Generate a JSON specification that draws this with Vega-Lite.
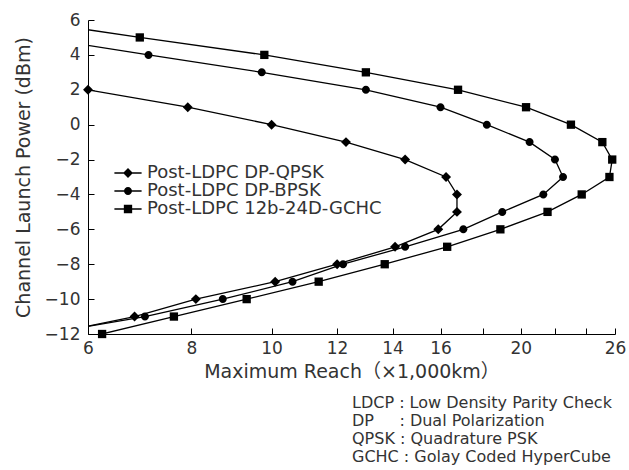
{
  "$schema": "https://vega.github.io/schema/vega-lite/v6.json",
  "width": 527,
  "height": 314,
  "autosize": {"type": "none"},
  "padding": {"left": 88, "top": 20, "right": 14, "bottom": 136},
  "background": "white",
  "config": {
    "view": {"stroke": null},
    "font": "DejaVu Sans",
    "axis": {
      "grid": false,
      "domainColor": "#000",
      "domainWidth": 1,
      "tickColor": "#000",
      "tickWidth": 1,
      "tickSize": -6,
      "labelColor": "#333",
      "titleColor": "#333",
      "labelFont": "DejaVu Sans",
      "titleFont": "DejaVu Sans, Noto Sans CJK JP",
      "titleFontWeight": "normal",
      "labelFontSize": 17,
      "titleFontSize": 19
    }
  },
  "title": {
    "text": [
      "LDCP\u00a0:\u00a0Low Density Parity Check",
      "DP\u00a0\u00a0\u00a0\u00a0\u00a0:\u00a0Dual Polarization",
      "QPSK\u00a0:\u00a0Quadrature PSK",
      "GCHC\u00a0:\u00a0Golay Coded HyperCube"
    ],
    "orient": "bottom",
    "anchor": "start",
    "align": "left",
    "frame": "group",
    "dx": 264,
    "offset": 14,
    "font": "DejaVu Sans",
    "fontSize": 16,
    "fontWeight": "normal",
    "color": "#333",
    "lineHeight": 18
  },
  "data": {
    "values": [
      {"series": "Post-LDPC DP-QPSK", "reach": 6.0, "power": 2},
      {"series": "Post-LDPC DP-QPSK", "reach": 7.92, "power": 1},
      {"series": "Post-LDPC DP-QPSK", "reach": 10.0, "power": 0},
      {"series": "Post-LDPC DP-QPSK", "reach": 12.3, "power": -1},
      {"series": "Post-LDPC DP-QPSK", "reach": 14.5, "power": -2},
      {"series": "Post-LDPC DP-QPSK", "reach": 16.25, "power": -3},
      {"series": "Post-LDPC DP-QPSK", "reach": 16.75, "power": -4},
      {"series": "Post-LDPC DP-QPSK", "reach": 16.75, "power": -5},
      {"series": "Post-LDPC DP-QPSK", "reach": 15.9, "power": -6},
      {"series": "Post-LDPC DP-QPSK", "reach": 14.1, "power": -7},
      {"series": "Post-LDPC DP-QPSK", "reach": 12.0, "power": -8},
      {"series": "Post-LDPC DP-QPSK", "reach": 10.1, "power": -9},
      {"series": "Post-LDPC DP-QPSK", "reach": 8.1, "power": -10},
      {"series": "Post-LDPC DP-QPSK", "reach": 6.83, "power": -11},
      {"series": "Post-LDPC DP-QPSK", "reach": 5.4, "power": -12},
      {"series": "Post-LDPC DP-BPSK", "reach": 5.2, "power": 5},
      {"series": "Post-LDPC DP-BPSK", "reach": 7.1, "power": 4},
      {"series": "Post-LDPC DP-BPSK", "reach": 9.73, "power": 3},
      {"series": "Post-LDPC DP-BPSK", "reach": 13.0, "power": 2},
      {"series": "Post-LDPC DP-BPSK", "reach": 16.0, "power": 1},
      {"series": "Post-LDPC DP-BPSK", "reach": 18.2, "power": 0},
      {"series": "Post-LDPC DP-BPSK", "reach": 20.5, "power": -1},
      {"series": "Post-LDPC DP-BPSK", "reach": 22.0, "power": -2},
      {"series": "Post-LDPC DP-BPSK", "reach": 22.5, "power": -3},
      {"series": "Post-LDPC DP-BPSK", "reach": 21.3, "power": -4},
      {"series": "Post-LDPC DP-BPSK", "reach": 19.0, "power": -5},
      {"series": "Post-LDPC DP-BPSK", "reach": 17.05, "power": -6},
      {"series": "Post-LDPC DP-BPSK", "reach": 14.5, "power": -7},
      {"series": "Post-LDPC DP-BPSK", "reach": 12.2, "power": -8},
      {"series": "Post-LDPC DP-BPSK", "reach": 10.6, "power": -9},
      {"series": "Post-LDPC DP-BPSK", "reach": 8.73, "power": -10},
      {"series": "Post-LDPC DP-BPSK", "reach": 7.03, "power": -11},
      {"series": "Post-LDPC DP-BPSK", "reach": 5.3, "power": -12},
      {"series": "Post-LDPC 12b-24D-GCHC", "reach": 5.0, "power": 6},
      {"series": "Post-LDPC 12b-24D-GCHC", "reach": 6.93, "power": 5},
      {"series": "Post-LDPC 12b-24D-GCHC", "reach": 9.8, "power": 4},
      {"series": "Post-LDPC 12b-24D-GCHC", "reach": 13.0, "power": 3},
      {"series": "Post-LDPC 12b-24D-GCHC", "reach": 16.8, "power": 2},
      {"series": "Post-LDPC 12b-24D-GCHC", "reach": 20.3, "power": 1},
      {"series": "Post-LDPC 12b-24D-GCHC", "reach": 23.0, "power": 0},
      {"series": "Post-LDPC 12b-24D-GCHC", "reach": 25.1, "power": -1},
      {"series": "Post-LDPC 12b-24D-GCHC", "reach": 25.8, "power": -2},
      {"series": "Post-LDPC 12b-24D-GCHC", "reach": 25.6, "power": -3},
      {"series": "Post-LDPC 12b-24D-GCHC", "reach": 23.7, "power": -4},
      {"series": "Post-LDPC 12b-24D-GCHC", "reach": 21.55, "power": -5},
      {"series": "Post-LDPC 12b-24D-GCHC", "reach": 18.9, "power": -6},
      {"series": "Post-LDPC 12b-24D-GCHC", "reach": 16.3, "power": -7},
      {"series": "Post-LDPC 12b-24D-GCHC", "reach": 13.7, "power": -8},
      {"series": "Post-LDPC 12b-24D-GCHC", "reach": 11.4, "power": -9},
      {"series": "Post-LDPC 12b-24D-GCHC", "reach": 9.33, "power": -10},
      {"series": "Post-LDPC 12b-24D-GCHC", "reach": 7.62, "power": -11},
      {"series": "Post-LDPC 12b-24D-GCHC", "reach": 6.24, "power": -12}
    ]
  },
  "encoding": {
    "x": {
      "field": "reach",
      "type": "quantitative",
      "scale": {"type": "log", "domain": [6, 26], "nice": false},
      "axis": {
        "title": "Maximum Reach（×1,000km）",
        "values": [6, 8, 10, 12, 14, 16, 18, 20, 22, 24, 26],
        "format": "d",
        "labelExpr": "indexof([18, 22, 24], datum.value) >= 0 ? '' : datum.label",
        "labelOverlap": false,
        "labelFlush": false,
        "labelBound": false,
        "labelPadding": 12,
        "titlePadding": 6
      }
    },
    "y": {
      "field": "power",
      "type": "quantitative",
      "scale": {"domain": [-12, 6], "nice": false},
      "axis": {
        "title": "Channel Launch Power (dBm)",
        "values": [-12, -10, -8, -6, -4, -2, 0, 2, 4, 6],
        "format": "d",
        "labelOverlap": false,
        "labelPadding": 14,
        "titlePadding": 11
      }
    }
  },
  "layer": [
    {
      "mark": {"type": "line", "color": "#000", "strokeWidth": 1.3, "clip": true},
      "encoding": {
        "detail": {"field": "series", "type": "nominal"},
        "order": {"field": "power", "type": "quantitative"}
      }
    },
    {
      "transform": [{"filter": "datum.reach >= 5.99"}],
      "mark": {"type": "point", "filled": true, "color": "#000", "opacity": 1, "size": 256},
      "encoding": {
        "shape": {
          "field": "series",
          "type": "nominal",
          "scale": {
            "domain": ["Post-LDPC DP-QPSK", "Post-LDPC DP-BPSK", "Post-LDPC 12b-24D-GCHC"],
            "range": [
              "M0,-0.62L0.62,0L0,0.62L-0.62,0Z",
              "M0.5,0A0.5,0.5 0 1,1 -0.5,0A0.5,0.5 0 1,1 0.5,0Z",
              "M-0.52,-0.52L0.52,-0.52L0.52,0.52L-0.52,0.52Z"
            ]
          },
          "legend": null
        }
      }
    },
    {
      "transform": [{"filter": "datum.reach >= 5.99"}],
      "mark": {"type": "point", "filled": true, "color": "#000", "opacity": 0, "size": 256},
      "encoding": {
        "shape": {
          "field": "series",
          "type": "nominal",
          "scale": {
            "domain": ["Post-LDPC DP-QPSK", "Post-LDPC DP-BPSK", "Post-LDPC 12b-24D-GCHC"],
            "range": [
              "M-1.7,-0.08L1.7,-0.08L1.7,0.08L-1.7,0.08ZM0,-0.62L0.62,0L0,0.62L-0.62,0Z",
              "M-1.7,-0.08L1.7,-0.08L1.7,0.08L-1.7,0.08ZM0.5,0A0.5,0.5 0 1,1 -0.5,0A0.5,0.5 0 1,1 0.5,0Z",
              "M-1.7,-0.08L1.7,-0.08L1.7,0.08L-1.7,0.08ZM-0.52,-0.52L0.52,-0.52L0.52,0.52L-0.52,0.52Z"
            ]
          },
          "legend": {
            "title": null,
            "orient": "none",
            "legendX": 31,
            "legendY": 144,
            "padding": 0,
            "symbolSize": 256,
            "symbolFillColor": "#000",
            "symbolStrokeWidth": 0,
            "symbolOpacity": 1,
            "labelFont": "DejaVu Sans",
            "labelFontSize": 18,
            "labelColor": "#333",
            "labelOffset": 10,
            "rowPadding": 0,
            "labelLimit": 400
          }
        }
      }
    }
  ],
  "resolve": {"scale": {"shape": "independent"}, "legend": {"shape": "independent"}}
}
